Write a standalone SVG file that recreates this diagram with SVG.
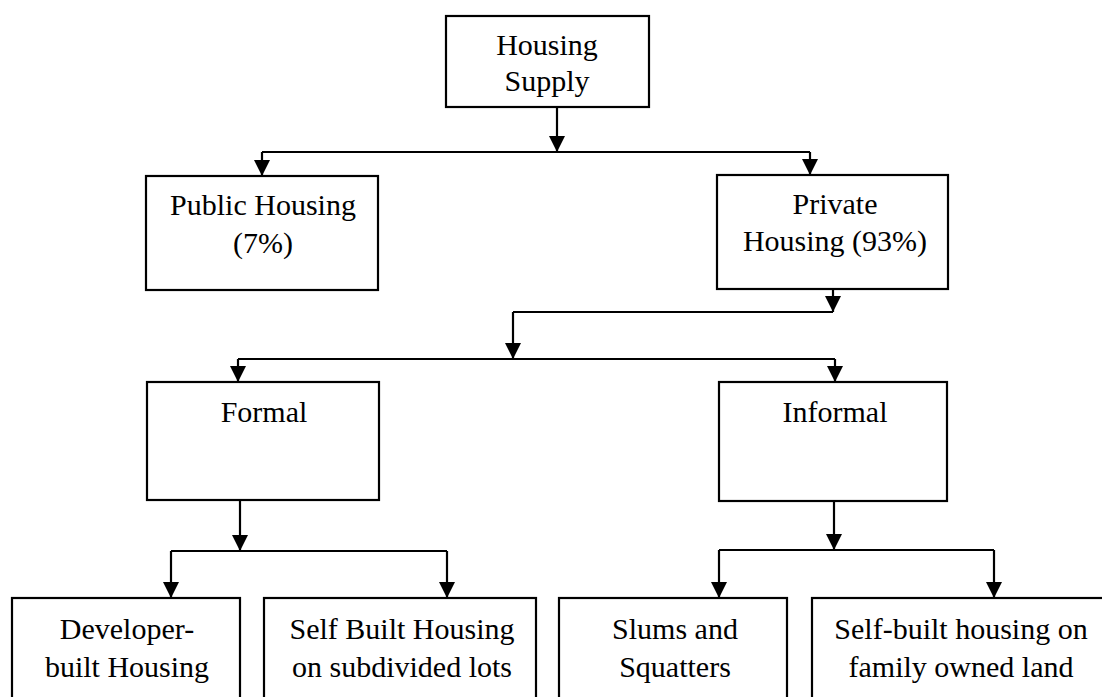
<svg xmlns="http://www.w3.org/2000/svg" width="1102" height="697" viewBox="0 0 1102 697">
<style>
.box{fill:#fff;stroke:#000;stroke-width:2.2}
.lbl{font-family:"Liberation Serif","Times New Roman",serif;font-size:30px;fill:#000;text-anchor:middle}
.con{fill:none;stroke:#000;stroke-width:2.2}
</style>
<defs>
<marker id="ah" viewBox="0 0 16 16" refX="16" refY="8" markerWidth="16" markerHeight="16" markerUnits="userSpaceOnUse" orient="auto">
<path d="M0,0 L16,8 L0,16 z" fill="#000"/>
</marker>
</defs>
<rect width="1102" height="697" fill="#fff"/>
<g id="connectors">
<path class="con" d="M557,107 V152" marker-end="url(#ah)"/>
<path class="con" d="M262,152 H810"/>
<path class="con" d="M262,152 V176" marker-end="url(#ah)"/>
<path class="con" d="M810,152 V175" marker-end="url(#ah)"/>
<path class="con" d="M833,289 V312" marker-end="url(#ah)"/>
<path class="con" d="M513,312 H833"/>
<path class="con" d="M513,312 V359" marker-end="url(#ah)"/>
<path class="con" d="M238,359 H835"/>
<path class="con" d="M238,359 V382" marker-end="url(#ah)"/>
<path class="con" d="M835,359 V382" marker-end="url(#ah)"/>
<path class="con" d="M240,500 V551" marker-end="url(#ah)"/>
<path class="con" d="M171,551 H447"/>
<path class="con" d="M171,551 V598" marker-end="url(#ah)"/>
<path class="con" d="M447,551 V598" marker-end="url(#ah)"/>
<path class="con" d="M834,501 V550" marker-end="url(#ah)"/>
<path class="con" d="M719,550 H994"/>
<path class="con" d="M719,550 V598" marker-end="url(#ah)"/>
<path class="con" d="M994,550 V598" marker-end="url(#ah)"/>
</g>
<g id="housing-supply">
<rect class="box" x="446" y="16" width="203" height="91"/>
<text class="lbl" x="547" y="55">Housing</text>
<text class="lbl" x="547" y="91">Supply</text>
</g>
<g id="public-housing">
<rect class="box" x="146" y="176" width="232" height="114"/>
<text class="lbl" x="263" y="215">Public Housing</text>
<text class="lbl" x="263" y="253">(7%)</text>
</g>
<g id="private-housing">
<rect class="box" x="717" y="175" width="231" height="114"/>
<text class="lbl" x="835" y="214">Private</text>
<text class="lbl" x="835" y="251">Housing (93%)</text>
</g>
<g id="formal">
<rect class="box" x="147" y="382" width="232" height="118"/>
<text class="lbl" x="264" y="422">Formal</text>
</g>
<g id="informal">
<rect class="box" x="719" y="382" width="228" height="119"/>
<text class="lbl" x="835" y="422">Informal</text>
</g>
<g id="developer-built">
<rect class="box" x="12" y="598" width="228" height="130"/>
<text class="lbl" x="127" y="639">Developer-</text>
<text class="lbl" x="127" y="677">built Housing</text>
</g>
<g id="self-built-subdivided">
<rect class="box" x="264" y="598" width="272" height="130"/>
<text class="lbl" x="402" y="639">Self Built Housing</text>
<text class="lbl" x="402" y="677">on subdivided lots</text>
</g>
<g id="slums-squatters">
<rect class="box" x="559" y="598" width="228" height="130"/>
<text class="lbl" x="675" y="639">Slums and</text>
<text class="lbl" x="675" y="677">Squatters</text>
</g>
<g id="self-built-family">
<rect class="box" x="812" y="598" width="320" height="130"/>
<text class="lbl" x="961" y="639">Self-built housing on</text>
<text class="lbl" x="961" y="677">family owned land</text>
</g>
</svg>
